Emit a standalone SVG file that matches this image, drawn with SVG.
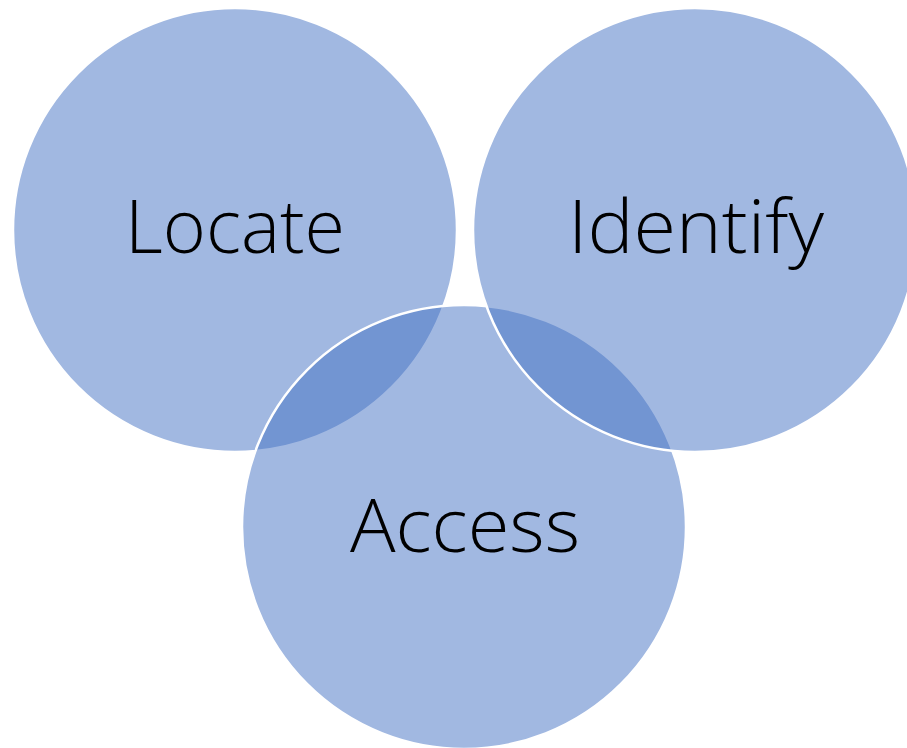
<svg xmlns="http://www.w3.org/2000/svg" width="907" height="748" viewBox="0 0 907 748">
<style>
.c{fill:#4472C4;fill-opacity:0.5;stroke:#fff;stroke-width:2.5}
.t{font-family:"Open Sans","Liberation Sans",sans-serif;font-weight:300;font-size:74px;fill:#000;text-anchor:middle}
</style>
<rect width="907" height="748" fill="#fff"/>
<g id="locate"><circle class="c" cx="235" cy="230" r="222"/><text class="t" x="235" y="253" textLength="220" lengthAdjust="spacingAndGlyphs">Locate</text></g>
<g id="access"><circle class="c" cx="464" cy="527" r="222"/><text class="t" x="465" y="552" textLength="230" lengthAdjust="spacingAndGlyphs">Access</text></g>
<g id="identify"><circle class="c" cx="695" cy="230" r="222"/><text class="t" x="696" y="253" textLength="256" lengthAdjust="spacingAndGlyphs">Identify</text></g>
<g id="connectors"/>
</svg>
